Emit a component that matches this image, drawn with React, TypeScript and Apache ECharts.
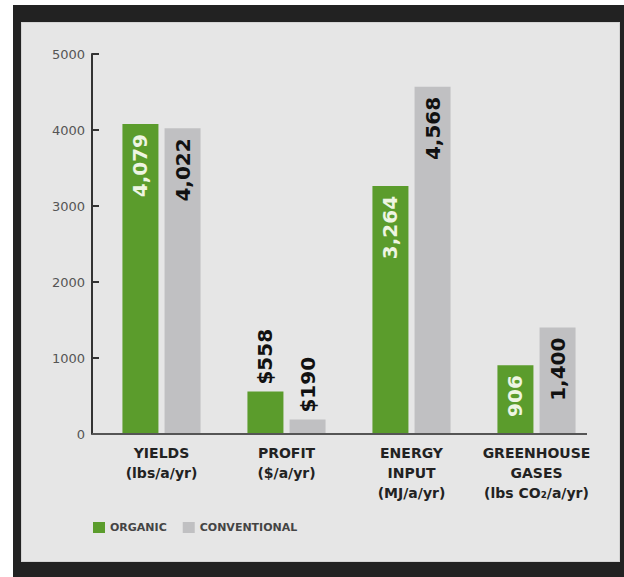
import React, { useEffect, useRef } from "react";
import * as echarts from "echarts";

const categories = [
  "YIELDS\n(lbs/a/yr)",
  "PROFIT\n($/a/yr)",
  "ENERGY\nINPUT\n(MJ/a/yr)",
  "GREENHOUSE\nGASES\n(lbs CO₂/a/yr)",
];
const organicValues = [4079, 558, 3264, 906];
const conventionalValues = [4022, 190, 4568, 1400];
const organicLabels = ["4,079", "$558", "3,264", "906"];
const conventionalLabels = ["4,022", "$190", "4,568", "1,400"];
const seriesNames = ["ORGANIC", "CONVENTIONAL"];
const yTicks = [0, 1000, 2000, 3000, 4000, 5000];

const GREEN = "#5b9c2c";
const GREY = "#c0c0c2";
const BOLD = "DejaVu Sans";

export default function App() {
  const ref = useRef<HTMLDivElement>(null);

  useEffect(() => {
    if (!ref.current) return;
    const chart = echarts.init(ref.current, undefined, { renderer: "svg" });

    const makeData = (vals: number[], labels: string[], color: string) =>
      vals.map((v, i) => {
        const outside = i === 1; // profit values drawn above bars
        return {
          value: v,
          label: {
            show: true,
            formatter: labels[i],
            rotate: 90,
            position: outside ? "top" : "insideTop",
            align: outside ? "left" : "right",
            verticalAlign: "middle",
            distance: outside ? 7 : 10,
            color: outside ? "#111111" : color,
            fontFamily: BOLD,
            fontWeight: "bold",
            fontSize: 20,
          },
        };
      });

    chart.setOption({
      animation: false,
      backgroundColor: "transparent",
      grid: { left: 99, right: 25, top: 54, bottom: 143, containLabel: false },
      legend: {
        data: seriesNames,
        left: 93,
        top: 522,
        padding: 0,
        itemWidth: 12,
        itemHeight: 11,
        itemGap: 16,
        icon: "rect",
        textStyle: {
          fontFamily: BOLD,
          fontWeight: "bold",
          fontSize: 11,
          color: "#444444",
        },
      },
      xAxis: {
        type: "category",
        data: categories,
        axisLine: { show: false },
        axisTick: { show: false },
        axisLabel: {
          interval: 0,
          margin: 9,
          fontFamily: BOLD,
          fontWeight: "bold",
          fontSize: 14,
          lineHeight: 20,
          color: "#222222",
          align: "center",
        },
      },
      yAxis: {
        type: "value",
        min: 0,
        max: 5000,
        interval: 1000,
        offset: 7,
        axisLine: { show: true, lineStyle: { color: "#333333", width: 2 } },
        axisTick: { show: true, inside: true, length: 7, lineStyle: { color: "#333333", width: 2 } },
        splitLine: { show: false },
        axisLabel: {
          margin: 7,
          fontFamily: "DejaVu Sans",
          fontSize: 13,
          color: "#555555",
          customValues: yTicks,
          formatter: (v: number) => String(v),
        },
      },
      series: [
        {
          name: seriesNames[0],
          type: "bar",
          barWidth: 36,
          barGap: "17%",
          itemStyle: { color: GREEN },
          data: makeData(organicValues, organicLabels, "#eef5e2"),
        },
        {
          name: seriesNames[1],
          type: "bar",
          barWidth: 36,
          barGap: "17%",
          itemStyle: { color: GREY },
          data: makeData(conventionalValues, conventionalLabels, "#111111"),
        },
      ],
      graphic: [
        {
          type: "line",
          z: 100,
          shape: { x1: 92, y1: 434, x2: 587, y2: 434 },
          style: { stroke: "#555555", lineWidth: 2 },
        },
      ],
    });

    return () => chart.dispose();
  }, []);

  return (
    <div style={{ position: "fixed", left: 0, top: 0, width: 624, height: 577, background: "#ffffff" }}>
      <div style={{ position: "absolute", left: 13, top: 5, width: 611, height: 572, background: "#222222" }} />
      <div
        style={{
          position: "absolute",
          left: 21,
          top: 22,
          width: 599,
          height: 540,
          background: "#e6e6e6",
          boxSizing: "border-box",
          border: "1px solid #d4d4d4",
        }}
      />
      <div ref={ref} style={{ position: "absolute", left: 0, top: 0, width: 624, height: 577 }} />
    </div>
  );
}
